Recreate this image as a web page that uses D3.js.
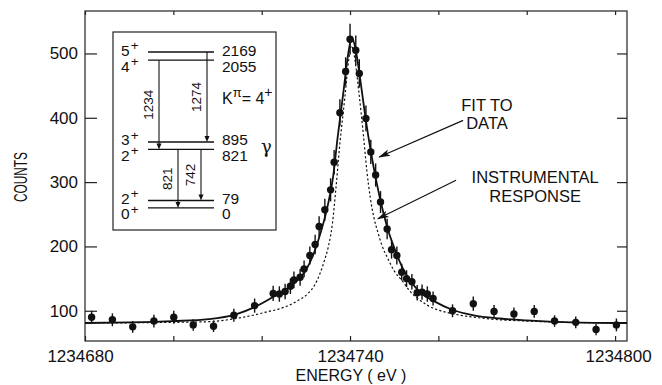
<!DOCTYPE html>
<html>
<head>
<meta charset="utf-8">
<script src="https://cdn.jsdelivr.net/npm/d3@7"></script>
<style>
body{margin:0;background:#fff;}
text{font-family:"Liberation Sans",Arial,sans-serif;fill:#111;}
</style>
</head>
<body>
<div id="container"></div>
<script>
console.log("js loaded");

// measured spectrum
let energy = [1234681.5, 1234686.2, 1234690.8, 1234695.6, 1234700.1, 1234704.5, 1234709.1, 1234713.7,
  1234718.4, 1234722.6, 1234724.0, 1234725.3, 1234726.5, 1234727.3, 1234728.7, 1234729.6, 1234730.9,
  1234732.1, 1234733.0, 1234734.3, 1234735.6, 1234736.4, 1234737.7, 1234739.0, 1234740.0, 1234741.3,
  1234742.1, 1234743.6, 1234744.7, 1234745.8, 1234746.9, 1234748.4, 1234749.4, 1234750.6, 1234751.7,
  1234752.8, 1234754.0, 1234755.2, 1234756.3, 1234757.5, 1234758.8, 1234763.2, 1234767.9, 1234772.6,
  1234777.1, 1234781.7, 1234786.3, 1234791.1, 1234795.7, 1234800.3];
let counts = [90, 86, 75, 84, 90, 78, 76, 93, 108, 127, 126, 130, 138, 148, 152, 165, 186, 203, 231, 257,
  288, 331, 408, 472, 522, 505, 469, 399, 347, 311, 269, 227, 195, 186, 160, 150, 145, 128, 129, 126,
  119, 100, 111, 99, 95, 99, 84, 82, 71, 78];
let errors = [10, 10, 9, 10, 10, 9, 9, 10, 11, 12, 12, 12, 12, 13, 13, 13, 14, 15, 16, 17, 18, 19, 21, 22,
  24, 23, 22, 20, 19, 18, 17, 16, 14, 14, 13, 13, 12, 12, 12, 12, 11, 10, 11, 10, 10, 10, 9, 9, 9, 10];

// fit curve (solid) and instrumental response (dashed)
let fitE = [1234680, 1234690, 1234700, 1234708, 1234714, 1234718.5, 1234722.5, 1234725.5, 1234728,
  1234730, 1234732, 1234733.5, 1234735, 1234736.2, 1234737.2, 1234738.5, 1234739.6, 1234740.4,
  1234741.3, 1234742.3, 1234743.5, 1234744.7, 1234746, 1234747.2, 1234748.5, 1234750, 1234751.8,
  1234753.8, 1234756, 1234759, 1234763, 1234768, 1234774, 1234780, 1234790, 1234802.7];
let fitC = [81, 82, 84, 87, 94, 106, 121, 133, 147, 163, 193, 225, 265, 310, 370, 440, 500, 525,
  505, 460, 400, 348, 300, 262, 228, 198, 168, 145, 128, 115, 102, 93, 88, 85, 82, 81];
let instE = [1234680, 1234700, 1234708, 1234715, 1234718, 1234721, 1234724.5, 1234728, 1234730.5,
  1234732, 1234733.2, 1234734.2, 1234735.1, 1234736, 1234736.8, 1234737.7, 1234738.8, 1234739.7,
  1234740.3, 1234741, 1234742, 1234743, 1234743.8, 1234744.6, 1234745.4, 1234746.3, 1234747.2,
  1234748.5, 1234750, 1234752, 1234753.6, 1234755.2, 1234757.4, 1234759.6, 1234763.5, 1234768,
  1234772, 1234780, 1234790, 1234802.7];
let instC = [81, 82, 83, 89, 93, 98, 104, 115, 127, 140, 158, 178, 200, 235, 290, 360, 430, 490,
  512, 495, 440, 375, 318, 275, 245, 222, 202, 182, 162, 145, 130, 120, 109, 102, 95, 90, 87, 84, 82, 81];

let yTicks = [100, 200, 300, 400, 500];
let xTicks = [1234680, 1234700, 1234720, 1234740, 1234760, 1234780, 1234800];
let xLabels = [1234680, 1234740, 1234800];

// level scheme inset
let levelEnergy = [2169, 2055, 895, 821, 79, 0];
let levelSpin = ["5", "4", "3", "2", "2", "0"];
let transFrom = [2055, 2169, 821, 821];
let transTo = [821, 895, 0, 79];
let transLabel = ["1234", "1274", "821", "742"];

let w = 662;
let h = 385;

let viz = d3.select("#container").append("svg")
    .attr("width", w)
    .attr("height", h)
    .style("display", "block")
;

let x = d3.scaleLinear().domain([1234680, 1234802.7]).range([85, 627]);
let y = d3.scaleLinear().domain([53, 566]).range([341, 11]);

// frame
viz.append("rect")
    .attr("x", x.range()[0]).attr("y", y.range()[1])
    .attr("width", x.range()[1] - x.range()[0])
    .attr("height", y.range()[0] - y.range()[1])
    .attr("fill", "none").attr("stroke", "#222").attr("stroke-width", 1.2)
;

function styleAxis(g){
  g.select(".domain").remove();
  g.selectAll(".tick line").attr("stroke", "#222").attr("stroke-width", 1.2);
  g.selectAll(".tick text").style("font-family", "Liberation Sans, Arial, sans-serif")
    .style("font-size", "17px").attr("fill", "#111");
}

viz.append("g").attr("transform", "translate(" + x.range()[0] + ",0)")
    .call(d3.axisLeft(y).tickValues(yTicks).tickSizeInner(-12).tickSizeOuter(0).tickPadding(7))
    .call(styleAxis)
;
viz.append("g").attr("transform", "translate(" + x.range()[1] + ",0)")
    .call(d3.axisRight(y).tickValues(yTicks).tickSizeInner(-10).tickSizeOuter(0).tickFormat(""))
    .call(styleAxis)
;
let xAxis = viz.append("g").attr("transform", "translate(0," + y.range()[0] + ")")
    .call(d3.axisBottom(x).tickValues(xTicks).tickSizeInner(-5).tickSizeOuter(0).tickPadding(9)
      .tickFormat(d => xLabels.includes(d) ? d3.format("d")(d) : ""))
    .call(styleAxis)
;
// end labels sit a little outside their ticks in the original
xAxis.selectAll(".tick text").attr("dx", d => d == xLabels[0] ? -5 : d == xLabels[2] ? 3 : 0);
viz.append("g").attr("transform", "translate(0," + y.range()[1] + ")")
    .call(d3.axisTop(x).tickValues(xTicks).tickSizeInner(-4).tickSizeOuter(0).tickFormat(""))
    .call(styleAxis)
;

// axis titles
viz.append("text")
    .attr("transform", "translate(27,177) rotate(-90)")
    .attr("text-anchor", "middle")
    .style("font-family", "Liberation Sans Narrow, Arial Narrow, sans-serif")
    .style("font-size", "18px")
    .attr("textLength", 50).attr("lengthAdjust", "spacingAndGlyphs")
    .text("COUNTS")
;
viz.append("text")
    .attr("x", 351).attr("y", 381)
    .attr("text-anchor", "middle")
    .style("font-size", "16px")
    .text("ENERGY ( eV )")
;

// curves
let fitLine = d3.line().x(d => x(d[0])).y(d => y(d[1])).curve(d3.curveMonotoneX);
viz.append("path")
    .datum(d3.zip(instE, instC))
    .attr("d", fitLine)
    .attr("fill", "none").attr("stroke", "#111").attr("stroke-width", 1.2)
    .attr("stroke-dasharray", "2.2,2.2")
;
viz.append("path")
    .datum(d3.zip(fitE, fitC))
    .attr("d", fitLine)
    .attr("fill", "none").attr("stroke", "#111").attr("stroke-width", 1.8)
;

// data points with error bars
let pts = d3.zip(energy, counts, errors);
viz.selectAll(".err").data(pts).enter()
  .append("line")
    .attr("class", "err")
    .attr("x1", d => x(d[0])).attr("x2", d => x(d[0]))
    .attr("y1", d => y(d[1] - d[2])).attr("y2", d => y(d[1] + d[2]))
    .attr("stroke", "#111").attr("stroke-width", 1.4)
;
viz.selectAll(".pt").data(pts).enter()
  .append("circle")
    .attr("class", "pt")
    .attr("cx", d => x(d[0])).attr("cy", d => y(d[1]))
    .attr("r", 3.7)
    .attr("fill", "#111")
;

// annotations
viz.append("defs").append("marker")
    .attr("id", "head").attr("viewBox", "0 -5 12 10")
    .attr("refX", 11).attr("refY", 0)
    .attr("markerWidth", 12).attr("markerHeight", 10)
    .attr("markerUnits", "userSpaceOnUse")
    .attr("orient", "auto")
  .append("path")
    .attr("d", "M0,-3.5L12,0L0,3.5L3,0Z")
    .attr("fill", "#111")
;
let notes = [
  {lines: ["FIT TO", "DATA"], e: 1234771, c: [410, 382], from: [1234765.6, 396], to: [1234746.6, 339]},
  {lines: ["INSTRUMENTAL", "RESPONSE"], e: 1234781.9, c: [298.6, 269], from: [1234764, 303], to: [1234746.3, 243]}
];
notes.forEach(function(n){
  n.lines.forEach(function(t, i){
    viz.append("text")
        .attr("x", x(n.e)).attr("y", y(n.c[i]))
        .attr("text-anchor", "middle")
        .style("font-size", "16.5px")
        .text(t)
    ;
  });
  viz.append("line")
      .attr("x1", x(n.from[0])).attr("y1", y(n.from[1]))
      .attr("x2", x(n.to[0])).attr("y2", y(n.to[1]))
      .attr("stroke", "#111").attr("stroke-width", 1.2)
      .attr("marker-end", "url(#head)")
  ;
});

// inset: level scheme
let inset = viz.append("g");
inset.append("rect")
    .attr("x", 113).attr("y", 32).attr("width", 163).attr("height", 198)
    .attr("fill", "#fff").attr("stroke", "#222").attr("stroke-width", 1.2)
;
let ly = d3.scaleLinear().domain([0, 2169]).range([207, 52]);
// close pairs of levels are spread apart so they can be read
let lpos = levelEnergy.map(d => ly(d));
for (let i = 0; i < lpos.length; i += 2){
  let mid = (lpos[i] + lpos[i + 1]) / 2;
  if (lpos[i + 1] - lpos[i] < 7.4){ lpos[i] = mid - 3.7; lpos[i + 1] = mid + 3.7; }
}
let lvlY = d => lpos[levelEnergy.indexOf(d)];

inset.selectAll(".lvl").data(levelEnergy).enter()
  .append("line")
    .attr("x1", 148).attr("x2", 214)
    .attr("y1", lvlY).attr("y2", lvlY)
    .attr("stroke", "#111").attr("stroke-width", 1.4)
;
// upper level of each pair gets its label above the line, lower one below
let labY = (d, i) => i % 2 == 0 ? lvlY(d) + 3.5 : lvlY(d) + 11.5;
let spin = inset.selectAll(".spin").data(levelEnergy).enter()
  .append("text")
    .attr("x", 121).attr("y", labY)
    .style("font-size", "15.5px")
;
spin.append("tspan").text((d, i) => levelSpin[i]);
spin.append("tspan").attr("dx", 1).attr("dy", -5.5).style("font-size", "13.5px").text("+");
inset.selectAll(".en").data(levelEnergy).enter()
  .append("text")
    .attr("x", 222).attr("y", labY)
    .style("font-size", "15.5px")
    .text(d => d)
;

let kp = inset.append("text").attr("x", 222).attr("y", 104).style("font-size", "16px");
kp.append("tspan").text("K");
kp.append("tspan").attr("dy", -7).style("font-size", "13px").text("π");
kp.append("tspan").attr("dy", 7).text("= 4");
kp.append("tspan").attr("dy", -7).style("font-size", "14px").text("+");
inset.append("text")
    .attr("x", 261).attr("y", 153)
    .style("font-family", "DejaVu Serif, serif")
    .style("font-size", "18px")
    .text("γ")
;

// transitions
let arrowX = [159, 207, 178, 201];
transFrom.forEach(function(f, i){
  let xa = arrowX[i];
  let y0 = lvlY(f), y1 = lvlY(transTo[i]);
  inset.append("line")
      .attr("x1", xa).attr("x2", xa).attr("y1", y0).attr("y2", y1 - 5)
      .attr("stroke", "#111").attr("stroke-width", 1.1)
  ;
  inset.append("path")
      .attr("d", "M" + (xa - 2.5) + "," + (y1 - 6) + "L" + (xa + 2.5) + "," + (y1 - 6) + "L" + xa + "," + y1 + "Z")
      .attr("fill", "#111")
  ;
  inset.append("text")
      .attr("transform", "translate(" + (xa - 6) + "," + ((y0 + y1) / 2) + ") rotate(-90)")
      .attr("text-anchor", "middle")
      .style("font-size", "13.5px")
      .text(transLabel[i])
  ;
});
</script>
</body>
</html>
